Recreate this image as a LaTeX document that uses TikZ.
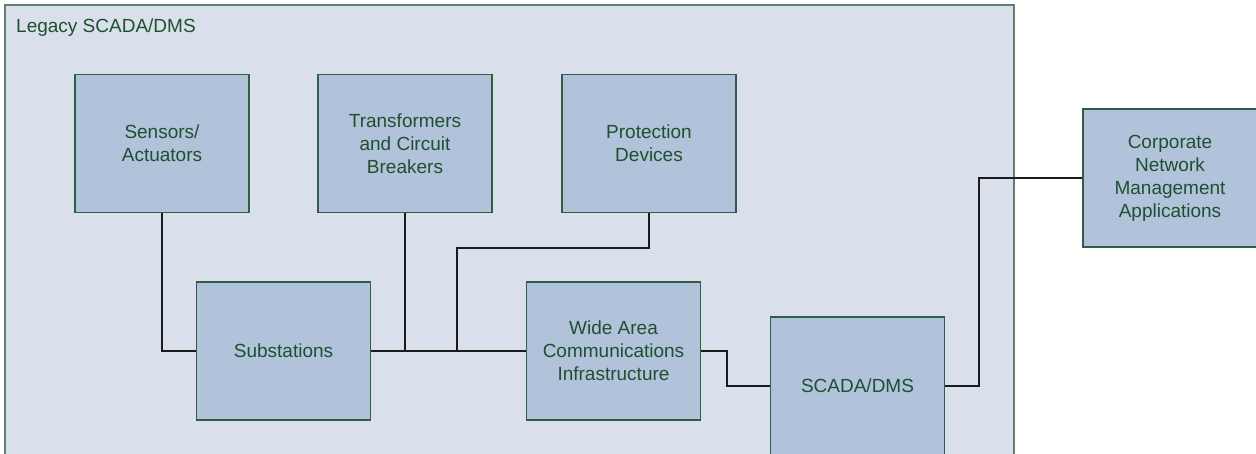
\documentclass[tikz,border=0pt]{standalone}
\usepackage{fontspec}
\setmainfont{Liberation Sans}
\definecolor{panelfill}{HTML}{D9DFEB}
\definecolor{panelline}{HTML}{5F8070}
\definecolor{boxfill}{HTML}{B0C3DB}
\definecolor{boxline}{HTML}{2E5E45}
\definecolor{labeltext}{HTML}{1F4F2F}
\definecolor{wire}{HTML}{1A1A1A}
\tikzset{
  unit/.style={draw=boxline, fill=boxfill, line width=1.2pt, text=labeltext,
    minimum width=174pt, minimum height=138pt, align=center,
    font=\fontsize{19pt}{23pt}\selectfont, inner sep=0pt},
  link/.style={draw=wire, line width=1.3pt},
}
\begin{document}
\begin{tikzpicture}[x=1pt, y=-1pt]
  \useasboundingbox (0,0) rectangle (1256,454);
  \begin{scope}
    \clip (0,0) rectangle (1256,454);
    % enclosing panel of the legacy system
    \draw[draw=panelline, fill=panelfill, line width=1.3pt] (5,5) rectangle (1014,470);
    \node[anchor=base west, text=labeltext, font=\fontsize{19pt}{23pt}\selectfont, inner sep=0pt]
      (title) at (16,33) {Legacy SCADA/DMS};

    % field equipment
    \node[unit] (sens)  at (162,143.5) {Sensors/\\Actuators};
    \node[unit] (trans) at (405,143.5) {Transformers\\and Circuit\\Breakers};
    \node[unit] (prot)  at (649,143.5) {Protection\\Devices};
    \node[unit] (subs)  at (283.5,351) {Substations};
    \node[unit] (wan)   at (613.5,351) {Wide Area\\Communications\\Infrastructure};
    \node[unit] (scada) at (857.5,386) {SCADA/DMS};
    \node[unit] (corp)  at (1170,178)  {Corporate\\Network\\Management\\Applications};

    % routing points
    \coordinate (pj) at (457,248);
    \coordinate (wk) at (727,351);
    \coordinate (sk) at (979,386);

    % wiring
    \draw[link] (sens.south) |- (subs.west);
    \draw[link] (subs.east) -- (wan.west);
    \draw[link] (trans.south) -- (trans.south |- subs.east);
    \draw[link] (prot.south) |- (pj) -- (pj |- wan.west);
    \draw[link] (wan.east) -- (wk) |- (scada.west);
    \draw[link] (scada.east) -- (sk) |- (corp.west);
  \end{scope}
\end{tikzpicture}
\end{document}
